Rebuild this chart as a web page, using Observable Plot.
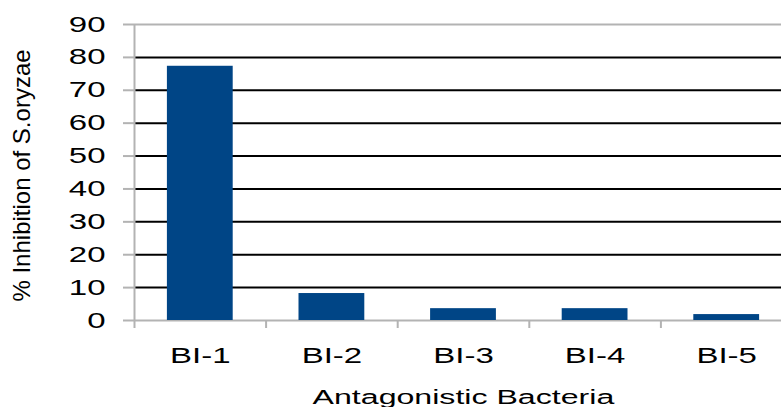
<!DOCTYPE html>
<html><head><meta charset="utf-8">
<script src="https://cdn.jsdelivr.net/npm/d3@7"></script>
<script src="https://cdn.jsdelivr.net/npm/@observablehq/plot@0.6"></script>
<style>
html,body{margin:0;padding:0;background:#fff;overflow:hidden;}
#chart{width:781px;height:407px;overflow:hidden;}
</style></head><body><div id="chart"></div>
<script>
const categories = ["BI-1", "BI-2", "BI-3", "BI-4", "BI-5"];
const values = [77.3, 8.2, 3.6, 3.6, 1.8];
const yTicks = [0, 10, 20, 30, 40, 50, 60, 70, 80, 90];
const gridValues = [10, 20, 30, 40, 50, 60, 70, 80];
const frameValues = [0, 90];
const yLabel = "% Inhibition of S.oryzae";
const xLabel = "Antagonistic Bacteria";

const data = categories.map((c, i) => ({c, i, v: values[i]}));
const bounds = d3.range(categories.length + 1);
const barPad = 0.25;
const gray = "#b3b3b3";
const font = "'Liberation Sans', Arial, sans-serif";

const plot = Plot.plot({
  width: 781, height: 407,
  marginLeft: 134, marginRight: 0, marginTop: 24, marginBottom: 87,
  style: {fontFamily: font, background: "#fff", color: "#000"},
  x: {domain: [0, categories.length], range: [134, 792]},
  y: {domain: [0, 90]},
  marks: [
    Plot.ruleY(gridValues, {stroke: "#000", strokeWidth: 2}),
    Plot.ruleY(frameValues, {stroke: gray, strokeWidth: 2}),
    Plot.axisY({ticks: yTicks, tickSize: 11, tickPadding: 18, stroke: gray, strokeWidth: 2, fill: "#000", fontSize: 22, label: null}),
    Plot.axisX({ticks: bounds, tickSize: 8, tickFormat: () => "", stroke: gray, strokeWidth: 2, label: null}),
    Plot.ruleX([0], {y1: 0, y2: 90, stroke: gray, strokeWidth: 2}),
    Plot.rectY(data, {x1: d => d.i + barPad, x2: d => d.i + 1 - barPad, y1: 0, y2: "v", fill: "#004586"}),
    Plot.text(data, {x: d => d.i + 0.5, y: 0, text: "c", dy: 35, fontSize: 22, fill: "#000"}),
    Plot.text([xLabel], {x: categories.length / 2, y: 0, text: d => d, dy: 77, fontSize: 21, fill: "#000"}),
    Plot.text([yLabel], {frameAnchor: "left", textAnchor: "middle", text: d => d, rotate: -90, dx: -112, dy: 3, fontSize: 24, fill: "#000"})
  ]
});
document.getElementById("chart").append(plot);
Array.from(plot.querySelectorAll("text")).forEach(t => {
  if (t.textContent === yLabel || t.textContent.trim() === "") return;
  const k = t.textContent === xLabel ? 1.53 : 1.5;
  try {
    const bb = t.getBBox();
    const anchor = getComputedStyle(t).textAnchor;
    const lx = anchor === "end" ? bb.x + bb.width : anchor === "middle" ? bb.x + bb.width / 2 : bb.x;
    const p = plot.createSVGPoint();
    p.x = lx; p.y = bb.y;
    const m = t.parentNode.getCTM().inverse().multiply(t.getCTM());
    const q = p.matrixTransform(m);
    const g = document.createElementNS("http://www.w3.org/2000/svg", "g");
    g.setAttribute("transform", `translate(${q.x.toFixed(2)},0) scale(${k},1) translate(${(-q.x).toFixed(2)},0)`);
    t.parentNode.insertBefore(g, t);
    g.appendChild(t);
  } catch (e) {
    const len = t.getComputedTextLength();
    t.setAttribute("lengthAdjust", "spacingAndGlyphs");
    t.setAttribute("textLength", (len * k).toFixed(2));
  }
});
</script></body></html>
